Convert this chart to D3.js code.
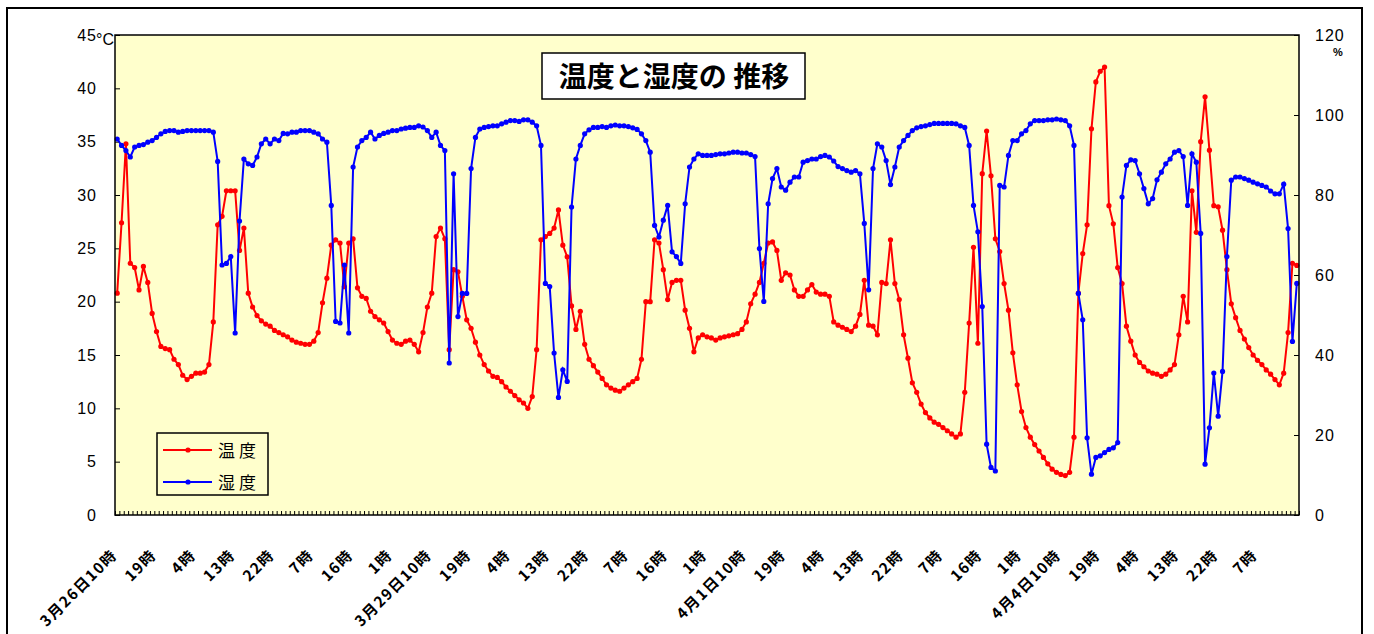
<!DOCTYPE html>
<html>
<head>
<meta charset="utf-8">
<script src="https://cdn.jsdelivr.net/npm/d3@7"></script>
<style>
  body { margin: 0; background: #fff; }
  svg { display: block; }
</style>
</head>
<body>
<svg id="chart" width="1374" height="634"></svg>
<script>
const PLOT = { left: 115, right: 1299, top: 35, bottom: 515 };

// 1 時間ごとの測定値 (3月26日10時 から)
const temperature = [
  20.8, 27.4, 34.8, 23.6, 23.2, 21.1, 23.3, 21.8, 18.9, 17.2,
  15.8, 15.6, 15.5, 14.6, 14.1, 13.1, 12.7, 13.0, 13.3, 13.3,
  13.4, 14.1, 18.1, 27.2, 28.0, 30.4, 30.4, 30.4, 24.8, 26.9,
  20.8, 19.5, 18.7, 18.2, 17.9, 17.7, 17.3, 17.1, 16.9, 16.7,
  16.4, 16.2, 16.1, 16.0, 16.0, 16.3, 17.1, 19.9, 22.2, 25.3,
  25.8, 25.5, 21.4, 25.5, 25.9, 21.3, 20.5, 20.3, 19.1, 18.6,
  18.3, 18.0, 17.2, 16.4, 16.1, 16.0, 16.3, 16.4, 16.0, 15.3,
  17.1, 19.5, 20.8, 26.1, 26.9, 25.9, 15.5, 23.0, 22.8, 20.5,
  18.3, 17.5, 16.2, 15.0, 14.1, 13.5, 13.0, 12.9, 12.5, 12.0,
  11.6, 11.2, 10.8, 10.5, 10.0, 11.1, 15.5, 25.8, 26.1, 26.4,
  26.9, 28.6, 25.3, 24.2, 19.6, 17.4, 19.1, 16.0, 14.6, 14.0,
  13.4, 12.8, 12.2, 11.9, 11.7, 11.6, 11.9, 12.2, 12.5, 12.8,
  14.6, 20.0, 20.0, 25.8, 25.5, 23.0, 20.2, 21.8, 22.0, 22.0,
  19.2, 17.5, 15.3, 16.6, 16.9, 16.7, 16.6, 16.4, 16.6, 16.7,
  16.8, 16.9, 17.0, 17.4, 18.1, 19.8, 20.7, 21.8, 23.6, 25.5,
  25.6, 24.8, 22.0, 22.7, 22.5, 21.1, 20.5, 20.5, 21.1, 21.6,
  20.9, 20.7, 20.7, 20.5, 18.1, 17.8, 17.6, 17.4, 17.2, 17.7,
  18.8, 22.0, 17.8, 17.7, 16.9, 21.8, 21.7, 25.8, 21.7, 20.2,
  16.9, 14.7, 12.4, 11.5, 10.4, 9.6, 9.1, 8.7, 8.5, 8.2,
  7.9, 7.6, 7.3, 7.6, 11.5, 18.0, 25.1, 16.1, 32.0, 36.0,
  31.8, 25.9, 24.7, 21.7, 19.2, 15.2, 12.2, 9.7, 8.2, 7.3,
  6.6, 6.0, 5.4, 4.8, 4.3, 4.0, 3.8, 3.7, 4.0, 7.3,
  20.8, 24.5, 27.2, 36.2, 40.6, 41.6, 42.0, 29.0, 27.3, 23.2,
  21.7, 17.7, 16.3, 15.0, 14.3, 13.9, 13.5, 13.3, 13.2, 13.0,
  13.2, 13.6, 14.1, 16.9, 20.5, 18.1, 30.4, 26.5, 35.0, 39.2,
  34.2, 29.0, 28.9, 26.7, 23.0, 19.8, 18.5, 17.3, 16.5, 15.7,
  15.0, 14.5, 14.1, 13.6, 13.2, 12.7, 12.2, 13.3, 17.1, 23.6,
  23.4
];

const humidity = [
  94.0, 92.4, 91.1, 89.5, 92.0, 92.4, 92.6, 93.2, 93.6, 94.4,
  95.3, 95.9, 96.1, 96.1, 95.7, 95.9, 96.1, 96.1, 96.1, 96.1,
  96.1, 96.1, 95.7, 88.4, 62.5, 62.9, 64.6, 45.5, 73.5, 89.0,
  87.8, 87.4, 89.5, 92.8, 94.0, 92.8, 94.0, 93.6, 95.4, 95.3,
  95.7, 95.7, 96.1, 96.1, 96.1, 95.7, 95.3, 94.0, 93.2, 77.4,
  48.4, 48.0, 62.5, 45.5, 87.0, 92.0, 93.6, 94.4, 95.7, 94.0,
  94.9, 95.4, 95.7, 96.1, 96.1, 96.5, 96.7, 96.9, 96.9, 97.3,
  97.0, 96.1, 94.4, 95.7, 92.4, 91.1, 38.0, 85.3, 49.6, 55.4,
  55.4, 86.6, 94.4, 96.5, 96.9, 97.1, 97.3, 97.3, 97.8, 98.2,
  98.6, 98.6, 98.4, 98.8, 98.8, 98.2, 97.3, 92.4, 57.9, 57.1,
  40.5, 29.4, 36.3, 33.4, 77.0, 89.0, 92.4, 95.3, 96.3, 96.9,
  96.9, 97.1, 96.9, 97.3, 97.5, 97.3, 97.3, 97.1, 96.8, 96.4,
  95.3, 93.6, 90.7, 72.4, 69.5, 73.7, 77.4, 65.8, 64.6, 62.9,
  77.8, 87.0, 89.0, 90.3, 89.9, 89.9, 89.9, 90.1, 90.3, 90.3,
  90.5, 90.7, 90.7, 90.5, 90.5, 90.1, 89.6, 66.6, 53.4, 77.8,
  84.1, 86.6, 82.0, 81.2, 83.2, 84.5, 84.5, 88.2, 88.6, 89.0,
  89.0, 89.6, 89.9, 89.5, 88.5, 87.1, 86.6, 86.1, 85.7, 86.1,
  85.3, 72.9, 56.3, 86.6, 92.8, 92.0, 88.6, 82.6, 87.0, 92.0,
  93.6, 94.9, 96.1, 96.8, 97.1, 97.3, 97.6, 97.9, 97.9, 97.9,
  97.9, 97.9, 97.8, 97.3, 96.9, 92.4, 77.4, 70.8, 52.1, 17.7,
  11.9, 11.0, 82.4, 82.0, 89.9, 93.6, 93.6, 95.3, 96.1, 97.8,
  98.6, 98.6, 98.6, 98.8, 98.8, 99.0, 98.8, 98.6, 97.3, 92.4,
  55.4, 48.8, 19.3, 10.2, 14.4, 14.8, 15.6, 16.4, 16.8, 18.1,
  79.5, 87.4, 88.8, 88.6, 85.3, 81.6, 77.8, 79.1, 83.8, 85.7,
  87.8, 89.0, 90.7, 91.1, 89.6, 77.4, 90.3, 88.2, 70.4, 12.7,
  21.8, 35.5, 24.7, 35.9, 64.6, 83.7, 84.5, 84.5, 84.1, 83.7,
  83.2, 82.8, 82.4, 82.0, 81.0, 80.3, 80.3, 82.7, 71.6, 43.4,
  57.9
];

// 9 時間ごとの目盛ラベル
const tickLabels = [
  "3月26日10時", "19時", "4時", "13時", "22時", "7時", "16時", "1時",
  "3月29日10時", "19時", "4時", "13時", "22時", "7時", "16時", "1時",
  "4月1日10時", "19時", "4時", "13時", "22時", "7時", "16時", "1時",
  "4月4日10時", "19時", "4時", "13時", "22時", "7時"
];
const LABEL_STEP = 9;
const tempTicks = [0, 5, 10, 15, 20, 25, 30, 35, 40, 45];
const humTicks = [0, 20, 40, 60, 80, 100, 120];

const series = [
  { name: "温度", values: temperature, color: "#ff0000", axis: "left" },
  { name: "湿度", values: humidity, color: "#0000ff", axis: "right" }
];

function createChart() {
  const svg = d3.select("#chart");
  const n = temperature.length;

  // 外枠
  svg.append("rect")
    .attr("x", 7).attr("y", 8)
    .attr("width", 1355).attr("height", 640)
    .attr("fill", "white")
    .attr("stroke", "black")
    .attr("stroke-width", 2);

  svg.append("rect")
    .attr("x", PLOT.left).attr("y", PLOT.top)
    .attr("width", PLOT.right - PLOT.left)
    .attr("height", PLOT.bottom - PLOT.top)
    .attr("fill", "#ffffcc");

  let x = d3.scaleBand()
    .domain(d3.range(n))
    .range([PLOT.left, PLOT.right])
    .paddingInner(0)
    .paddingOuter(0);
  let xEdge = d3.scaleLinear()
    .domain([0, n])
    .range([PLOT.left, PLOT.right]);
  let yT = d3.scaleLinear().domain([0, 45]).range([PLOT.bottom, PLOT.top]);
  let yH = d3.scaleLinear().domain([0, 120]).range([PLOT.bottom, PLOT.top]);
  const cx = i => x(i) + x.bandwidth() / 2;

  // 左軸 (℃)
  svg.append("g")
    .attr("transform", "translate(" + PLOT.left + ",0)")
    .style("font-family", "'Liberation Sans', Arial, sans-serif")
    .style("font-size", "16px")
    .call(d3.axisLeft(yT).tickValues(tempTicks).tickSizeInner(-5).tickSizeOuter(0).tickPadding(18))
    .call(g => g.select(".domain").remove())
    .call(g => g.selectAll("text").attr("fill", "black").attr("letter-spacing", "1px"));

  // 右軸 (%)
  svg.append("g")
    .attr("transform", "translate(" + PLOT.right + ",0)")
    .style("font-family", "'Liberation Sans', Arial, sans-serif")
    .style("font-size", "16px")
    .call(d3.axisRight(yH).tickValues(humTicks).tickSizeInner(-5).tickSizeOuter(0).tickPadding(16))
    .call(g => g.select(".domain").remove())
    .call(g => g.selectAll("text").attr("fill", "black").attr("letter-spacing", "1px"));

  // 下軸の小目盛
  svg.append("g")
    .attr("transform", "translate(0," + PLOT.bottom + ")")
    .call(d3.axisBottom(xEdge).tickValues(d3.range(n + 1)).tickSizeInner(-4).tickSizeOuter(0).tickFormat(""))
    .call(g => g.select(".domain").remove());

  // 下軸ラベル
  svg.append("g")
    .attr("transform", "translate(0," + PLOT.bottom + ")")
    .style("font-family", "'Noto Sans CJK JP', sans-serif")
    .style("font-size", "15px")
    .style("font-weight", "bold")
    .call(d3.axisBottom(x)
      .tickValues(d3.range(0, n, LABEL_STEP))
      .tickFormat(i => tickLabels[i / LABEL_STEP])
      .tickSize(0))
    .call(g => g.select(".domain").remove())
    .call(g => g.selectAll("text")
      .attr("fill", "black")
      .attr("text-anchor", "end")
      .attr("y", 0)
      .attr("dy", 0)
      .attr("letter-spacing", "1.5px")
      .attr("transform", "translate(1,41) rotate(-45)"));

  // 単位
  svg.append("text")
    .attr("x", 96).attr("y", 45)
    .style("font-family", "'Liberation Sans', Arial, sans-serif")
    .style("font-size", "16px")
    .text("°C");
  svg.append("text")
    .attr("x", 1333).attr("y", 56)
    .style("font-family", "'Liberation Sans', Arial, sans-serif")
    .style("font-size", "11px")
    .style("font-weight", "bold")
    .text("%");

  // 折れ線とマーカー
  series.forEach(function(s) {
    let y = s.axis === "left" ? yT : yH;
    let line = d3.line()
      .x((d, i) => cx(i))
      .y(d => y(d));
    svg.append("path")
      .datum(s.values)
      .attr("fill", "none")
      .attr("stroke", s.color)
      .attr("stroke-width", 2)
      .attr("d", line);
    svg.append("g")
      .selectAll("circle")
      .data(s.values)
      .join("circle")
      .attr("cx", (d, i) => cx(i))
      .attr("cy", d => y(d))
      .attr("r", 2.6)
      .attr("fill", s.color);
  });

  // プロット枠
  svg.append("rect")
    .attr("x", PLOT.left).attr("y", PLOT.top)
    .attr("width", PLOT.right - PLOT.left)
    .attr("height", PLOT.bottom - PLOT.top)
    .attr("fill", "none")
    .attr("stroke", "black")
    .attr("stroke-width", 1.5);

  // タイトル
  svg.append("rect")
    .attr("x", 542).attr("y", 53)
    .attr("width", 263).attr("height", 46)
    .attr("fill", "white")
    .attr("stroke", "black")
    .attr("stroke-width", 1.5);
  svg.append("text")
    .attr("x", 674).attr("y", 87)
    .attr("text-anchor", "middle")
    .style("font-family", "'Noto Sans CJK JP', sans-serif")
    .style("font-size", "28px")
    .style("font-weight", "bold")
    .text("温度と湿度の 推移");

  // 凡例
  const legend = svg.append("g");
  legend.append("rect")
    .attr("x", 157).attr("y", 433)
    .attr("width", 111).attr("height", 62)
    .attr("fill", "#ffffcc")
    .attr("stroke", "black")
    .attr("stroke-width", 1.5);
  series.forEach(function(s, k) {
    let ly = 450 + k * 32;
    legend.append("line")
      .attr("x1", 163).attr("x2", 212)
      .attr("y1", ly).attr("y2", ly)
      .attr("stroke", s.color)
      .attr("stroke-width", 2);
    legend.append("circle")
      .attr("cx", 188).attr("cy", ly)
      .attr("r", 2.6)
      .attr("fill", s.color);
    legend.append("text")
      .attr("x", 218).attr("y", ly + 7)
      .style("font-family", "'Noto Sans CJK JP', sans-serif")
      .style("font-size", "17px")
      .style("letter-spacing", "4px")
      .text(s.name);
  });
}

createChart();
</script>
</body>
</html>
